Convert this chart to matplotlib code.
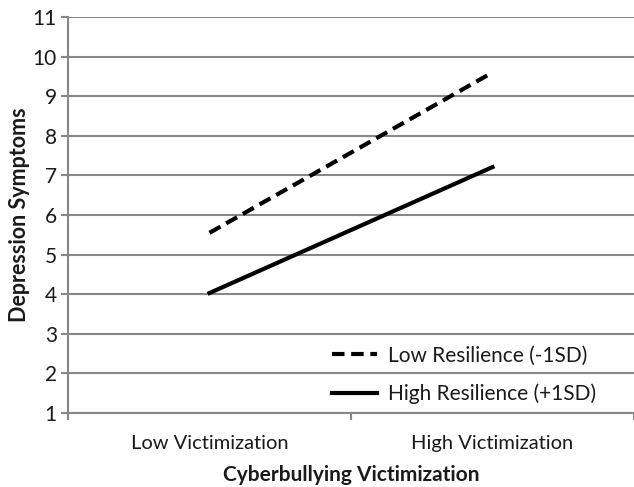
import matplotlib
matplotlib.use("Agg")
import matplotlib.pyplot as plt
import numpy as np

plt.rcParams['font.family'] = ['Lato', 'DejaVu Sans']

categories = ["Low Victimization", "High Victimization"]
low_resilience = [5.55, 9.6]
high_resilience = [4.03, 7.21]

grid_color = "#878787"
text_color = "#1a1a1a"

fig = plt.figure(figsize=(6.34, 4.87), dpi=100)
ax = fig.add_axes([68/634, 74/487, 566/634, 396/487])

x = np.arange(len(categories))
ax.plot(x, low_resilience, color="black", lw=3, ls=(0, (3, 1.6)), label="Low Resilience (-1SD)")
ax.plot(x, high_resilience, color="black", lw=3, label="High Resilience (+1SD)")

ax.set_xlim(-0.5, 1.5)
ax.set_ylim(1, 11)
ax.set_yticks(range(1, 12))
ax.yaxis.grid(True, color=grid_color, lw=1.5)
ax.set_axisbelow(True)

ax.set_xticks(x)
ax.set_xticklabels(categories, fontsize=14.5, color=text_color)
ax.tick_params(axis="x", which="major", length=0, pad=15.5)
ax.set_xticks([-0.5, 0.5, 1.5], minor=True)
ax.tick_params(axis="x", which="minor", length=5, color=grid_color, width=1.5)
ax.tick_params(axis="y", length=5, color=grid_color, width=1.5, labelsize=15,
               labelcolor=text_color, pad=3)

for s in ["top", "right"]:
    ax.spines[s].set_visible(False)
ax.spines["left"].set_color(grid_color)
ax.spines["left"].set_linewidth(1.5)
ax.spines["bottom"].set_color(grid_color)
ax.spines["bottom"].set_linewidth(1.5)

ax.set_ylabel("Depression Symptoms", fontsize=15.5, fontweight="bold", labelpad=2, color=text_color)
ax.set_xlabel("Cyberbullying Victimization", fontsize=15, fontweight="bold", labelpad=9.5, color=text_color)

leg = ax.legend(loc="lower right", bbox_to_anchor=(596/634, (487-404)/487),
                bbox_transform=fig.transFigure, frameon=False, fontsize=15,
                handlelength=2.2, labelspacing=0.85, handletextpad=0.5,
                borderpad=0, borderaxespad=0)
for t in leg.get_texts():
    t.set_color(text_color)

fig.savefig("out.png", dpi=100)
